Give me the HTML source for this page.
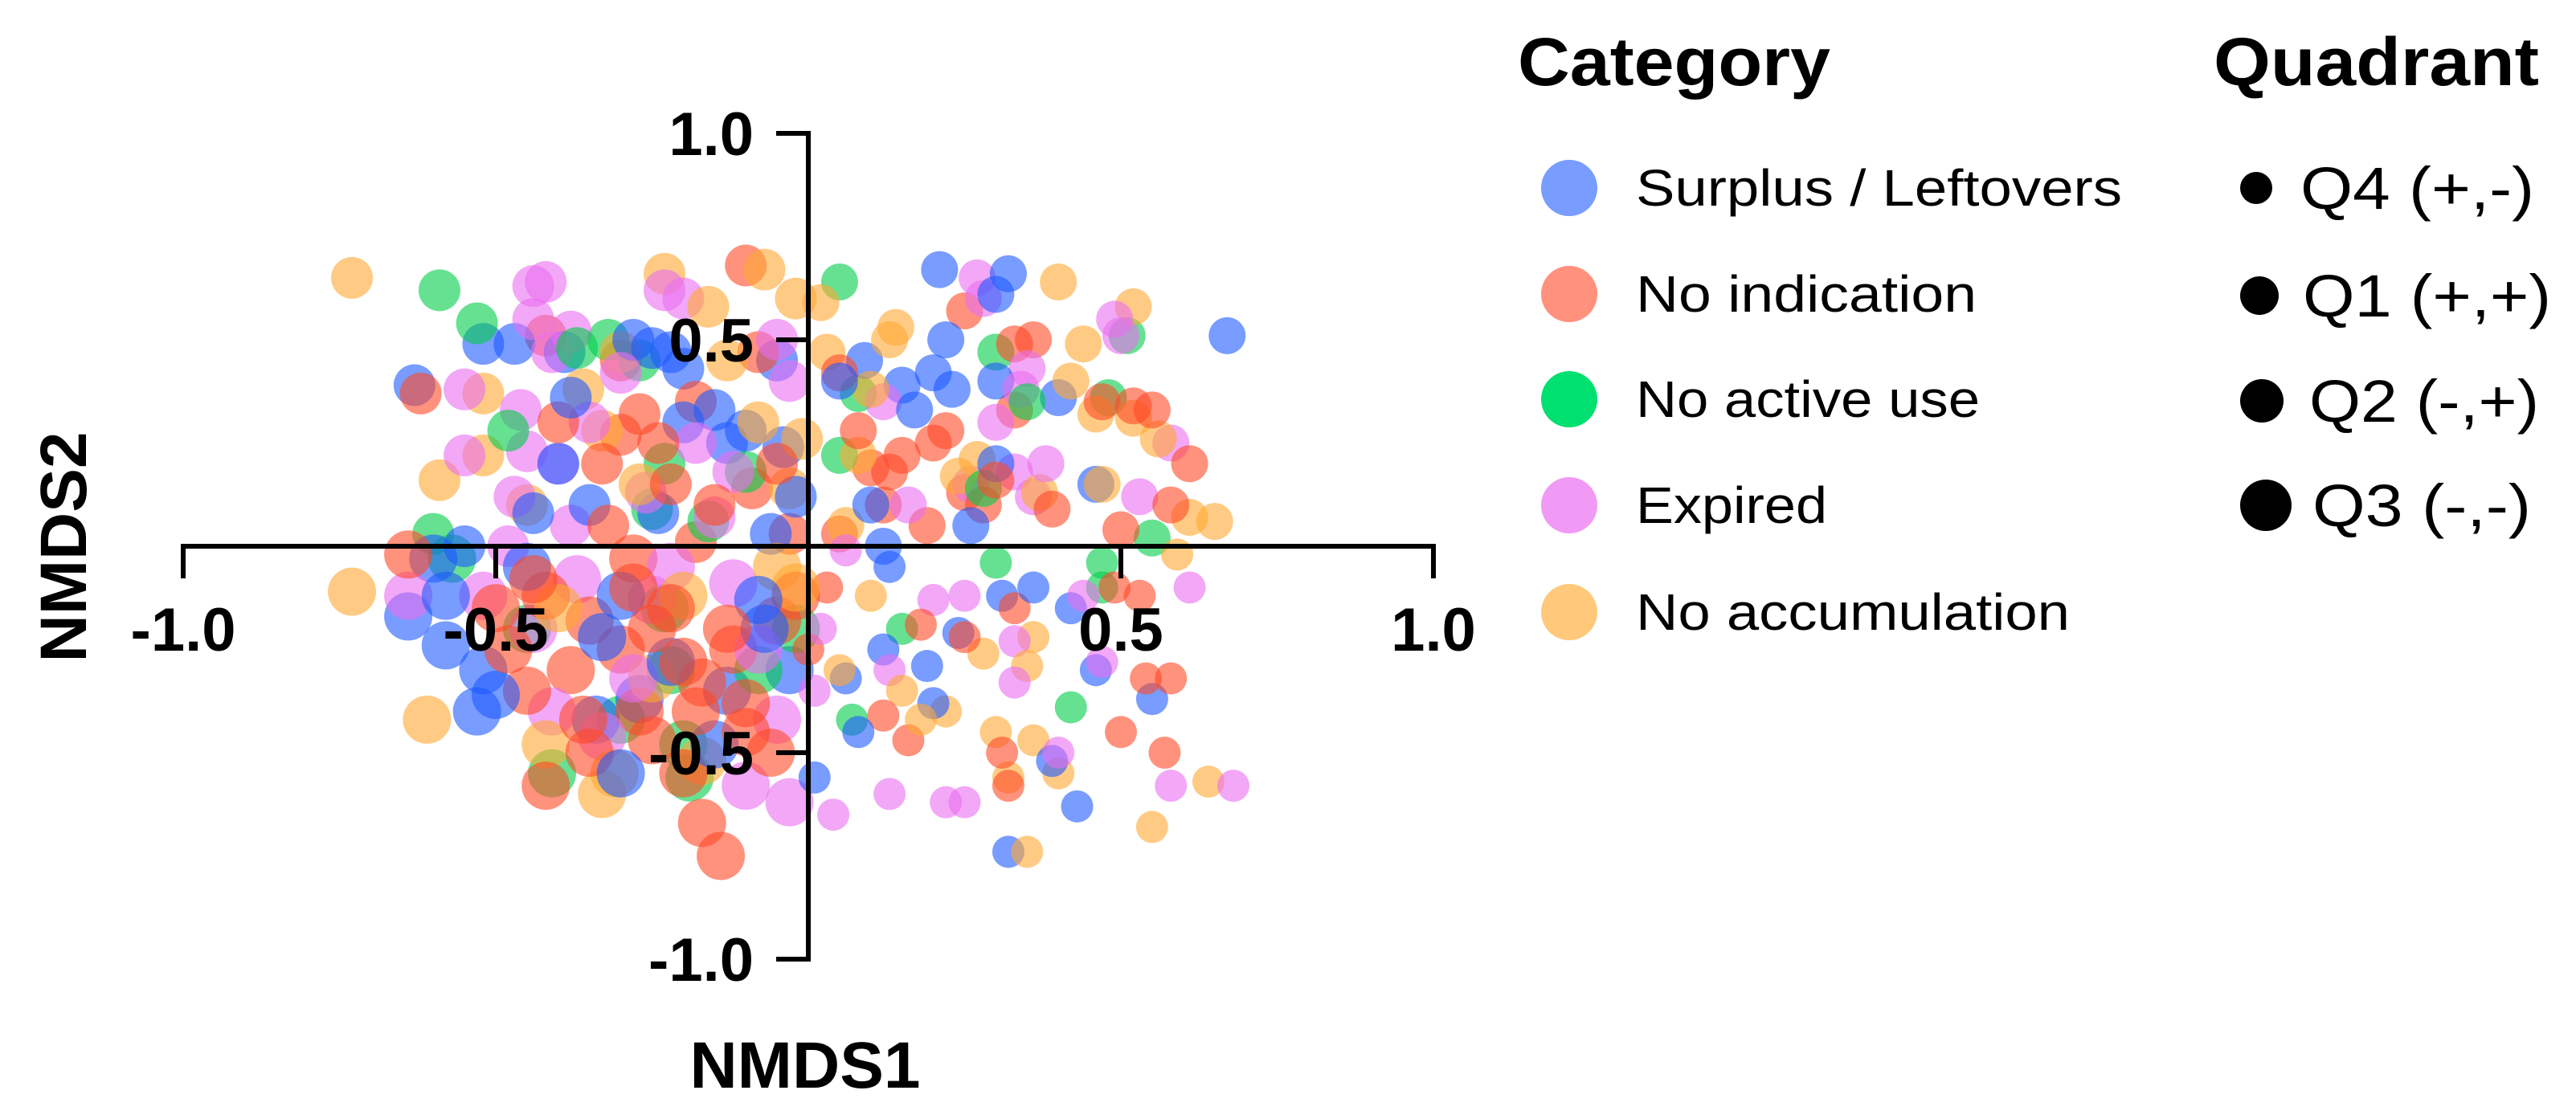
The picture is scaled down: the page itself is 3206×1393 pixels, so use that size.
<!DOCTYPE html>
<html>
<head>
<meta charset="utf-8">
<style>
  html,body{margin:0;padding:0;background:#fff;}
  svg{display:block;}
</style>
</head>
<body>
<svg id="chart" width="3206" height="1393" viewBox="0 0 3206 1393" xmlns="http://www.w3.org/2000/svg">
  <rect x="0" y="0" width="3206" height="1393" fill="#ffffff"/>
  <g id="points"></g>
  <g id="axes"></g>
  <text x="1002" y="1354" text-anchor="middle" font-family="Liberation Sans, sans-serif" font-weight="bold" font-size="82" fill="#000">NMDS1</text>
  <text x="0" y="0" transform="translate(107,681) rotate(-90)" text-anchor="middle" font-family="Liberation Sans, sans-serif" font-weight="bold" font-size="82" fill="#000">NMDS2</text>

  <g>
    <text x="1889" y="106" font-family="Liberation Sans, sans-serif" font-weight="bold" font-size="84" textLength="389" lengthAdjust="spacingAndGlyphs" fill="#000">Category</text>
    <g id="catLegend"></g>
  </g>
  <g>
    <text x="2755" y="106" font-family="Liberation Sans, sans-serif" font-weight="bold" font-size="84" textLength="405" lengthAdjust="spacingAndGlyphs" fill="#000">Quadrant</text>
    <g id="quadLegend"></g>
  </g>
</svg>
<script>
// ---- data ----
const categories = ["Surplus / Leftovers","No indication","No active use","Expired","No accumulation"];
const quadrantLabels = ["Q4 (+,-)","Q1 (+,+)","Q2 (-,+)","Q3 (-,-)"];
const xTicks = [-1.0,-0.5,0.5,1.0];
const yTicks = [1.0,0.5,-0.5,-1.0];
const xTickLabels = ["-1.0","-0.5","0.5","1.0"];
const yTickLabels = ["1.0","0.5","-0.5","-1.0"];

const surplusX = [-0.63,-0.52,-0.47,-0.39,-0.22,-0.2,-0.15,-0.05,-0.13,-0.04,0.09,0.15,0.2,0.23,0.22,0.3,0.3,0.4,0.46,0.67,0.32,0.21,-0.24,-0.6,-0.55,-0.64,-0.58,-0.52,-0.53,-0.34,-0.27,-0.13,-0.03,-0.06,0.13,0.12,0.06,0.19,0.24,0.31,0.42,0.46,0.55,0.39,0.43,0.32,0.01,-0.3,0.3,0.12,-0.2,-0.4,0.36,0.08,-0.45,-0.08,0.2,
  -0.25,-0.28,-0.35,-0.1,-0.02,-0.58,-0.5,-0.15,-0.33,0.17,0.26,-0.44,-0.22,-0.07,0.1,-0.38,-0.3,0.05];
const surplusY = [0.39,0.49,0.49,0.47,0.47,0.43,0.33,0.45,0.25,0.24,0.45,0.39,0.42,0.38,0.5,0.61,0.4,0.36,0.15,0.51,0.66,0.67,0.08,-0.03,0.0,-0.17,-0.24,-0.3,-0.4,-0.42,-0.37,-0.35,-0.3,0.03,-0.05,-0.25,-0.32,-0.29,-0.21,-0.12,-0.15,-0.3,-0.37,-0.52,-0.63,-0.74,-0.56,-0.12,0.2,0.0,0.3,0.2,-0.1,-0.45,-0.05,-0.13,-0.38,
  0.48,0.5,0.1,0.28,0.12,-0.12,-0.36,-0.48,-0.22,0.33,0.05,0.08,-0.28,-0.2,0.1,0.36,-0.55,0.4];

const noIndX = [-0.62,-0.42,-0.3,-0.27,-0.3,-0.18,-0.1,-0.08,-0.09,0.1,0.13,0.2,0.25,0.33,0.36,0.33,0.25,0.19,0.47,0.52,0.55,0.61,0.58,0.5,0.39,0.28,0.12,0.05,-0.03,-0.18,-0.28,-0.42,-0.35,-0.3,-0.38,-0.27,-0.17,-0.12,-0.05,-0.02,0.03,0.18,0.25,0.33,0.49,0.53,0.54,0.58,0.5,0.57,0.16,0.12,0.31,0.32,-0.2,-0.35,-0.42,-0.14,-0.17,-0.25,-0.45,-0.1,-0.06,0.0,-0.22,-0.64,-0.22,0.05,
  -0.33,-0.24,-0.4,-0.15,-0.28,-0.48,-0.2,-0.1,-0.36,-0.13,-0.44,-0.25,0.08,0.15,0.22,0.3,-0.05,-0.32,-0.18,-0.5];
const noIndY = [0.37,0.51,0.45,0.32,0.27,0.35,0.68,0.47,0.14,0.19,0.18,0.25,0.57,0.49,0.5,0.33,0.13,0.05,0.35,0.34,0.33,0.2,0.1,0.04,0.09,0.1,0.1,0.03,0.03,0.01,-0.03,-0.12,-0.18,-0.25,-0.3,-0.4,-0.33,-0.25,-0.18,-0.12,-0.1,-0.19,-0.22,-0.15,-0.1,-0.12,-0.32,-0.32,-0.45,-0.5,-0.47,-0.41,-0.5,-0.58,-0.55,-0.5,-0.58,-0.75,-0.67,-0.47,-0.35,-0.38,-0.5,-0.25,-0.15,-0.02,0.15,0.42,
  0.2,0.25,0.3,0.1,-0.1,-0.25,-0.28,-0.45,-0.42,-0.2,-0.08,-0.2,0.28,0.22,0.28,0.16,0.2,0.05,-0.4,-0.15];

const noActiveX = [-0.59,-0.53,-0.32,-0.27,0.05,0.08,0.3,0.48,0.51,0.55,0.47,0.3,-0.23,-0.25,-0.6,-0.57,-0.23,-0.22,-0.41,-0.2,-0.19,0.07,0.42,0.47,-0.45,-0.1,0.05,-0.3,0.15,0.35,
  -0.37,-0.16,-0.08,0.28,-0.48,-0.02];
const noActiveY = [0.62,0.54,0.5,0.45,0.64,0.37,0.47,0.36,0.51,0.02,-0.04,-0.04,0.2,0.09,0.03,-0.03,-0.15,-0.3,-0.55,-0.48,-0.56,-0.42,-0.39,-0.1,-0.2,0.18,0.22,-0.42,-0.2,0.35,
  0.48,0.06,-0.3,0.14,0.28,-0.2];

const expiredX = [-0.44,-0.42,-0.44,-0.38,-0.41,-0.55,-0.46,-0.45,-0.4,-0.23,-0.2,-0.05,-0.03,0.27,0.28,0.35,0.34,0.49,0.5,0.58,0.53,0.33,0.26,0.36,-0.26,-0.38,-0.48,-0.64,-0.52,-0.44,-0.37,-0.22,-0.25,-0.12,0.06,0.2,0.25,0.33,0.33,0.13,0.01,-0.05,-0.41,-0.33,-0.03,0.04,0.13,0.22,0.25,0.58,0.68,0.61,0.44,0.47,0.4,-0.1,0.12,-0.15,
  -0.35,-0.3,-0.47,-0.18,-0.08,0.16,0.3,0.38,-0.28,-0.12,-0.55,0.02];
const expiredY = [0.63,0.64,0.55,0.52,0.47,0.38,0.33,0.23,0.2,0.62,0.6,0.5,0.4,0.65,0.6,0.43,0.38,0.55,0.51,0.25,0.12,0.18,0.15,0.12,0.13,0.05,0.0,-0.12,-0.12,-0.2,-0.08,-0.05,-0.13,-0.09,-0.01,-0.13,-0.12,-0.23,-0.33,-0.3,-0.35,-0.42,-0.4,-0.46,-0.62,-0.65,-0.6,-0.62,-0.62,-0.58,-0.58,-0.1,-0.12,-0.28,-0.5,-0.58,0.35,0.07,
  0.3,0.42,0.12,0.25,-0.25,0.1,0.3,0.2,-0.32,0.18,0.22,-0.2];

const noAccX = [-0.73,-0.52,-0.52,-0.59,-0.73,-0.61,-0.3,-0.23,-0.07,-0.13,0.02,0.03,0.14,0.13,0.4,0.52,0.44,0.46,0.52,0.56,0.61,0.65,0.59,0.37,0.24,0.27,0.08,-0.03,-0.01,0.06,-0.33,-0.27,-0.2,-0.05,0.1,0.28,0.36,0.35,0.22,0.3,0.32,0.36,0.4,0.55,0.64,0.35,0.15,0.05,-0.33,-0.31,-0.17,-0.42,-0.02,-0.45,0.47,
  -0.36,-0.16,-0.02,0.1,0.42,-0.25,-0.4,0.18,-0.08];
const noAccY = [0.65,0.37,0.22,0.16,-0.11,-0.42,0.47,0.66,0.67,0.45,0.59,0.47,0.53,0.5,0.64,0.58,0.49,0.32,0.31,0.26,0.07,0.06,-0.02,0.13,0.17,0.21,0.22,0.14,0.26,0.05,0.28,0.15,-0.12,-0.05,-0.12,-0.26,-0.22,-0.29,-0.4,-0.45,-0.56,-0.47,-0.55,-0.68,-0.57,-0.74,-0.35,-0.3,-0.6,-0.55,-0.52,-0.48,-0.1,0.1,0.15,
  0.38,0.58,0.6,0.38,0.4,-0.32,-0.15,-0.42,0.3];

const seriesX = [surplusX, noIndX, noActiveX, expiredX, noAccX];
const seriesY = [surplusY, noIndY, noActiveY, expiredY, noAccY];

// ---- styles ----
const pointColors = ["#1e5aff","#ff4a26","#00cd4a","#ea6ef0","#ffa832"];
const legendColors = ["#789cff","#ff917d","#00e070","#f09af5","#ffc87a"];
const quadRadius = [20,23,26,30]; // Q4,Q1,Q2,Q3

// ---- scales ----
const cx = 1006, cy = 680, sx = 778, sy = 514;
function xScale(v){ return cx + v*sx; }
function yScale(v){ return cy - v*sy; }
function quadIndex(x,y){ if(x>=0&&y<0) return 0; if(x>=0&&y>=0) return 1; if(x<0&&y>=0) return 2; return 3; }

const NS = "http://www.w3.org/2000/svg";
const gPts = document.getElementById("points");
let maxLen = Math.max(...seriesX.map(a=>a.length));
for(let i=0;i<maxLen;i++){
  for(let c=0;c<seriesX.length;c++){
    if(i>=seriesX[c].length) continue;
    const x = seriesX[c][i], y = seriesY[c][i];
    const el = document.createElementNS(NS,"circle");
    el.setAttribute("cx", xScale(x));
    el.setAttribute("cy", yScale(y));
    el.setAttribute("r", quadRadius[quadIndex(x,y)]);
    el.setAttribute("fill", pointColors[c]);
    el.setAttribute("fill-opacity", "0.6");
    
    
    gPts.appendChild(el);
  }
}

// ---- axes ----
const gAx = document.getElementById("axes");
function line(x1,y1,x2,y2,name){
  const l = document.createElementNS(NS,"line");
  l.setAttribute("x1",x1); l.setAttribute("y1",y1); l.setAttribute("x2",x2); l.setAttribute("y2",y2);
  l.setAttribute("stroke","#000"); l.setAttribute("stroke-width","6");
  
  
  gAx.appendChild(l);
}
line(xScale(-1)-3, cy, xScale(1)+3, cy, "x-axis-line");
line(cx, yScale(1)-3, cx, yScale(-1)+3, "y-axis-line");
function label(x,y,t,anchor,name){
  const e = document.createElementNS(NS,"text");
  e.setAttribute("x",x); e.setAttribute("y",y);
  e.setAttribute("text-anchor",anchor);
  e.setAttribute("font-family","Liberation Sans, sans-serif");
  e.setAttribute("font-weight","bold");
  e.setAttribute("font-size","76");
  e.textContent = t;
  
  
  gAx.appendChild(e);
}
xTicks.forEach((v,i)=>{
  line(xScale(v), cy, xScale(v), cy+40, "x-tick");
  label(xScale(v), cy+130, xTickLabels[i], "middle", "x-tick-label");
});
yTicks.forEach((v,i)=>{
  line(cx-40, yScale(v), cx, yScale(v), "y-tick");
  label(cx-68, yScale(v)+27, yTickLabels[i], "end", "y-tick-label");
});

// ---- legends ----
const catRowsY = [234,366,497,629,762];
const catWidths = [605,424,428,238,540];
const gCat = document.getElementById("catLegend");
categories.forEach((name,i)=>{
  const g = document.createElementNS(NS,"g");
  
  
  const c = document.createElementNS(NS,"circle");
  c.setAttribute("cx",1953); c.setAttribute("cy",catRowsY[i]); c.setAttribute("r",35);
  c.setAttribute("fill",legendColors[i]);
  
  
  g.appendChild(c);
  const t = document.createElementNS(NS,"text");
  t.setAttribute("x",2036); t.setAttribute("y",catRowsY[i]+22);
  t.setAttribute("font-family","Liberation Sans, sans-serif");
  t.setAttribute("font-size","64");
  t.setAttribute("textLength",catWidths[i]);
  t.setAttribute("lengthAdjust","spacingAndGlyphs");
  t.textContent = name;
  
  
  g.appendChild(t);
  gCat.appendChild(g);
});
const quadRowsY = [234,368,499,629];
const quadDotR = [20,24,27,32];
const quadTextX = [2863,2866,2874,2878];
const quadTextW = [291,309,286,272];
const gQ = document.getElementById("quadLegend");
quadrantLabels.forEach((name,i)=>{
  const g = document.createElementNS(NS,"g");
  
  
  const c = document.createElementNS(NS,"circle");
  c.setAttribute("cx",2788+quadDotR[i]); c.setAttribute("cy",quadRowsY[i]); c.setAttribute("r",quadDotR[i]);
  c.setAttribute("fill","#000");
  
  
  g.appendChild(c);
  const t = document.createElementNS(NS,"text");
  t.setAttribute("x",quadTextX[i]); t.setAttribute("y",quadRowsY[i]+26);
  t.setAttribute("font-family","Liberation Sans, sans-serif");
  t.setAttribute("font-size","74");
  t.setAttribute("textLength",quadTextW[i]);
  t.setAttribute("lengthAdjust","spacingAndGlyphs");
  t.textContent = name;
  
  
  g.appendChild(t);
  gQ.appendChild(g);
});
</script>
</body>
</html>
